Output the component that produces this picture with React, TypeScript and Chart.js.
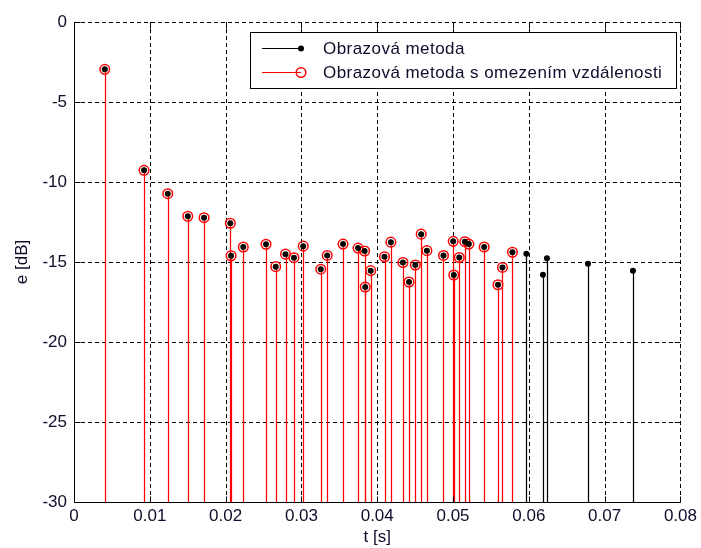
import React, { useEffect, useRef } from 'react';
import { Chart, registerables } from 'chart.js';

Chart.register(...registerables);

// Arrival times [s] and levels [dB] of the reflections, full image-source method
const imageTimes = [
  0.00406, 0.00924, 0.01237, 0.01501, 0.01716, 0.02062, 0.02072, 0.02233, 0.02533, 0.02661,
  0.0279, 0.02901, 0.03024, 0.03255, 0.0334, 0.03549, 0.03747, 0.03834, 0.03842, 0.03914,
  0.04096, 0.0418, 0.04339, 0.04419, 0.04503, 0.0458, 0.04655, 0.04874, 0.05002, 0.0501,
  0.05082, 0.05156, 0.05209, 0.05411, 0.05593, 0.05652, 0.05784, 0.05967, 0.06186, 0.06239,
  0.0678, 0.07373,
];
const imageLevels = [
  -2.96, -9.27, -10.73, -12.14, -12.23, -12.58, -14.61, -14.06, -13.89, -15.29,
  -14.51, -14.73, -14.01, -15.45, -14.59, -13.88, -14.13, -14.31, -16.56, -15.54,
  -14.67, -13.76, -15.03, -16.25, -15.19, -13.26, -14.29, -14.59, -13.71, -15.81,
  -14.72, -13.73, -13.88, -14.06, -16.42, -15.34, -14.39, -14.49, -15.8, -14.77,
  -15.11, -15.54,
];

// Image-source method with a distance limit
const limitedTimes = [
  0.00406, 0.00924, 0.01237, 0.01501, 0.01716, 0.02062, 0.02072, 0.02233, 0.02533, 0.02661,
  0.0279, 0.02901, 0.03024, 0.03255, 0.0334, 0.03549, 0.03747, 0.03834, 0.03842, 0.03914,
  0.04096, 0.0418, 0.04339, 0.04419, 0.04503, 0.0458, 0.04655, 0.04874, 0.05002, 0.0501,
  0.05082, 0.05156, 0.05209, 0.05411, 0.05593, 0.05652, 0.05784,
];
const limitedLevels = [
  -2.96, -9.27, -10.73, -12.14, -12.23, -12.58, -14.61, -14.06, -13.89, -15.29,
  -14.51, -14.73, -14.01, -15.45, -14.59, -13.88, -14.13, -14.31, -16.56, -15.54,
  -14.67, -13.76, -15.03, -16.25, -15.19, -13.26, -14.29, -14.59, -13.71, -15.81,
  -14.72, -13.73, -13.88, -14.06, -16.42, -15.34, -14.39,
];

const xTicks = [0, 0.01, 0.02, 0.03, 0.04, 0.05, 0.06, 0.07, 0.08];
const xTickLabels = ['0', '0.01', '0.02', '0.03', '0.04', '0.05', '0.06', '0.07', '0.08'];
const yTicks = [0, -5, -10, -15, -20, -25, -30];
const yTickLabels = ['0', '-5', '-10', '-15', '-20', '-25', '-30'];

const seriesNames = ['Obrazová metoda', 'Obrazová metoda s omezením vzdálenosti'];
const xTitle = 't [s]';
const yTitle = 'e [dB]';

const FONT = "'Liberation Sans', Arial, Helvetica, sans-serif";
const TEXT = '#0c0c2c';
const TICK_LEN = 6;

// Dashed grid behind the data, then the stems from each marker down to the axis floor
const gridAndStems = {
  id: 'gridAndStems',
  beforeDatasetsDraw(chart: any) {
    const { ctx, chartArea: a, scales } = chart;
    const xs = scales.x;
    const ys = scales.y;
    ctx.save();
    ctx.strokeStyle = '#000';
    ctx.lineWidth = 1;
    ctx.setLineDash([4, 3]);
    xTicks.forEach((v) => {
      if (v === xs.min) return;
      const px = Math.round(xs.getPixelForValue(v)) + 0.5;
      ctx.beginPath();
      ctx.moveTo(px, a.top);
      ctx.lineTo(px, a.bottom);
      ctx.stroke();
    });
    yTicks.forEach((v) => {
      if (v === ys.min) return;
      const py = Math.round(ys.getPixelForValue(v)) + 0.5;
      ctx.beginPath();
      ctx.moveTo(a.left, py);
      ctx.lineTo(a.right, py);
      ctx.stroke();
    });
    ctx.setLineDash([]);

    const base = ys.getPixelForValue(ys.min);
    // columns already carrying a red stem keep the red one only
    const redColumns = new Set<number>();
    chart.getDatasetMeta(1).data.forEach((pt: any) => redColumns.add(Math.round(pt.x)));
    chart.data.datasets.forEach((ds: any, i: number) => {
      const meta = chart.getDatasetMeta(i);
      ctx.strokeStyle = ds.borderColor;
      ctx.lineWidth = 1.25;
      meta.data.forEach((pt: any) => {
        const col = Math.round(pt.x);
        if (i === 0 && redColumns.has(col)) return;
        ctx.beginPath();
        ctx.moveTo(col + 0.5, pt.y);
        ctx.lineTo(col + 0.5, base);
        ctx.stroke();
      });
    });
    ctx.restore();
  },
  afterDatasetsDraw(chart: any) {
    const { ctx, chartArea: a, scales } = chart;
    const xs = scales.x;
    const ys = scales.y;
    ctx.save();
    ctx.strokeStyle = '#000';
    ctx.lineWidth = 1;
    const left = Math.round(a.left) + 0.5;
    const bottom = Math.round(a.bottom) + 0.5;
    const right = Math.round(a.right) + 0.5;
    const top = Math.round(a.top) + 0.5;
    ctx.beginPath();
    ctx.moveTo(left, a.top);
    ctx.lineTo(left, bottom);
    ctx.lineTo(a.right, bottom);
    ctx.stroke();
    // inward tick marks on all four sides
    xTicks.forEach((v) => {
      const px = Math.round(xs.getPixelForValue(v)) + 0.5;
      ctx.beginPath();
      ctx.moveTo(px, bottom);
      ctx.lineTo(px, bottom - TICK_LEN);
      ctx.moveTo(px, top);
      ctx.lineTo(px, top + TICK_LEN);
      ctx.stroke();
    });
    yTicks.forEach((v) => {
      const py = Math.round(ys.getPixelForValue(v)) + 0.5;
      ctx.beginPath();
      ctx.moveTo(left, py);
      ctx.lineTo(left + TICK_LEN, py);
      ctx.moveTo(right, py);
      ctx.lineTo(right - TICK_LEN, py);
      ctx.stroke();
    });
    ctx.restore();
  },
};

// Legend box in the upper right of the axes
const stemLegend = {
  id: 'stemLegend',
  afterDraw(chart: any) {
    const { ctx } = chart;
    const box = { x: 250.5, y: 32.5, w: 426, h: 56 };
    ctx.save();
    ctx.fillStyle = '#fff';
    ctx.fillRect(box.x, box.y, box.w, box.h);
    ctx.strokeStyle = '#000';
    ctx.lineWidth = 1;
    ctx.strokeRect(box.x, box.y, box.w, box.h);
    const rows = [48.5, 72.5];
    chart.data.datasets.forEach((ds: any, i: number) => {
      const y = rows[i];
      ctx.strokeStyle = ds.borderColor;
      ctx.lineWidth = 1;
      ctx.beginPath();
      ctx.moveTo(262, y);
      ctx.lineTo(301, y);
      ctx.stroke();
      ctx.beginPath();
      ctx.arc(301, y, ds.pointRadius, 0, Math.PI * 2);
      if (i === 0) {
        ctx.fillStyle = ds.pointBackgroundColor;
        ctx.fill();
      } else {
        ctx.lineWidth = ds.pointBorderWidth;
        ctx.strokeStyle = ds.pointBorderColor;
        ctx.stroke();
      }
      ctx.fillStyle = TEXT;
      ctx.font = `17px ${FONT}`;
      ctx.textBaseline = 'middle';
      ctx.textAlign = 'left';
      (ctx as any).letterSpacing = '0.45px';
      ctx.fillText(seriesNames[i], 323, y + 0.5);
    });
    ctx.restore();
  },
};

export default function App() {
  const canvasRef = useRef<HTMLCanvasElement | null>(null);

  useEffect(() => {
    const canvas = canvasRef.current;
    if (!canvas) return;
    const chart = new Chart(canvas, {
      type: 'scatter',
      data: {
        datasets: [
          {
            label: seriesNames[0],
            data: imageTimes.map((t, i) => ({ x: t, y: imageLevels[i] })),
            borderColor: '#000000',
            backgroundColor: '#000000',
            pointBackgroundColor: '#000000',
            pointBorderColor: '#000000',
            pointBorderWidth: 0,
            pointRadius: 3,
            showLine: false,
          },
          {
            label: seriesNames[1],
            data: limitedTimes.map((t, i) => ({ x: t, y: limitedLevels[i] })),
            borderColor: '#ff0000',
            backgroundColor: 'rgba(0,0,0,0)',
            pointBackgroundColor: 'rgba(0,0,0,0)',
            pointBorderColor: '#ff0000',
            pointBorderWidth: 1.5,
            pointRadius: 4.8,
            showLine: false,
          },
        ] as any,
      },
      options: {
        animation: false,
        responsive: false,
        events: [],
        layout: { padding: { top: 22, right: 20, left: 0, bottom: 0 } },
        plugins: { legend: { display: false }, tooltip: { enabled: false } },
        scales: {
          x: {
            type: 'linear',
            min: 0,
            max: 0.08,
            afterBuildTicks: (s: any) => {
              s.ticks = xTicks.map((v) => ({ value: v }));
            },
            afterFit: (s: any) => {
              s.height = 46;
            },
            grid: { display: false, drawTicks: false },
            border: { display: false },
            ticks: {
              autoSkip: false,
              maxRotation: 0,
              padding: 4,
              color: TEXT,
              font: { family: FONT, size: 17 },
              callback: (_v: any, i: number) => xTickLabels[i],
            },
            title: {
              display: true,
              text: xTitle,
              color: TEXT,
              font: { family: FONT, size: 17 },
              padding: { top: 0, bottom: 0 },
            },
          },
          y: {
            type: 'linear',
            min: -30,
            max: 0,
            afterBuildTicks: (s: any) => {
              s.ticks = yTicks.map((v) => ({ value: v }));
            },
            afterFit: (s: any) => {
              s.width = 74;
            },
            grid: { display: false, drawTicks: false },
            border: { display: false },
            ticks: {
              autoSkip: false,
              padding: 7,
              color: TEXT,
              font: { family: FONT, size: 17 },
              callback: (_v: any, i: number) => yTickLabels[i],
            },
            title: {
              display: true,
              text: yTitle,
              color: TEXT,
              font: { family: FONT, size: 17 },
              padding: { top: 12, bottom: 0 },
            },
          },
        },
      } as any,
      plugins: [gridAndStems, stemLegend],
    });
    return () => chart.destroy();
  }, []);

  return (
    <div
      style={{
        position: 'fixed',
        left: 0,
        top: 0,
        width: 701,
        height: 548,
        background: '#fff',
      }}
    >
      <canvas ref={canvasRef} width={701} height={548} style={{ display: 'block' }} />
    </div>
  );
}
